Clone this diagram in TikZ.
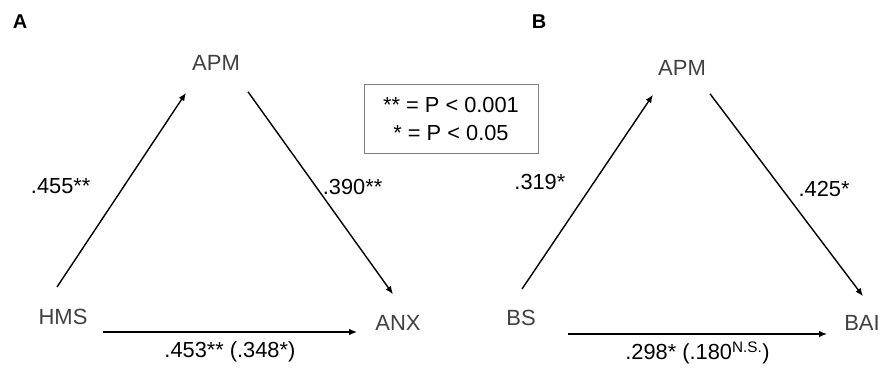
\documentclass[tikz,border=0pt]{standalone}
\usepackage{fontspec}
\setmainfont{Liberation Sans}
\usepackage{xcolor}
\usetikzlibrary{arrows.meta,positioning}

\definecolor{vargray}{HTML}{404040}

\begin{document}
\begin{tikzpicture}[x=1pt, y=-1pt,
    var/.style={inner sep=0pt, text=vargray, font=\fontsize{22}{26}\selectfont},
    coef/.style={inner sep=0pt, text=black, font=\fontsize{21.8}{26}\selectfont},
    panel/.style={inner sep=0pt, font=\fontsize{20}{24}\selectfont\bfseries},
    path/.style={-{Latex[length=8pt,width=6.5pt]}, line width=1.4pt}]
    \useasboundingbox (0,0) rectangle (886,371);

    % panel A
    \node[panel] (labA) at (20,22) {A};
    \node[var] (apmA) at (216,63) {APM};
    \node[var] (hms) at (63,317) {HMS};
    \node[var] (anx) at (398,323) {ANX};

    \draw[path] ([xshift=-6pt,yshift=22pt]hms.north) -- node[coef, pos=0.52, left=33pt] {.455**} ([xshift=-30pt,yshift=-22pt]apmA.south);
    \draw[path] ([xshift=32pt,yshift=-21pt]apmA.south) -- node[coef, pos=0.47, right=6pt] {.390**} ([xshift=-5pt,yshift=21pt]anx.north);
    \draw[path] ([xshift=15pt,yshift=-15pt]hms.east) -- node[coef, below=9pt] {.453** (.348*)} ([xshift=-18pt,yshift=-9pt]anx.west);

    % legend
    \node[draw=gray, line width=0.8pt, minimum width=174pt, minimum height=69pt, align=center,
          font=\fontsize{21.8}{28}\selectfont] (legend) at (451,118.5) {** = P < 0.001\\* = P < 0.05};

    % panel B
    \node[panel] (labB) at (539,22) {B};
    \node[var] (apmB) at (682,68) {APM};
    \node[var] (bs) at (521,318) {BS};
    \node[var] (bai) at (862,323) {BAI};

    \draw[path] ([xshift=1pt,yshift=21pt]bs.north) -- node[coef, pos=0.55, left=28pt] {.319*} ([xshift=-29pt,yshift=-19pt]apmB.south);
    \draw[path] ([xshift=28pt,yshift=-18pt]apmB.south) -- node[coef, pos=0.47, right=16pt] {.425*} ([xshift=1pt,yshift=19pt]bai.north);
    \draw[path] ([xshift=32pt,yshift=-16pt]bs.east) -- node[coef, below=7pt] {.298* (.180\textsuperscript{N.S.})} ([xshift=-17pt,yshift=-11pt]bai.west);
\end{tikzpicture}
\end{document}
